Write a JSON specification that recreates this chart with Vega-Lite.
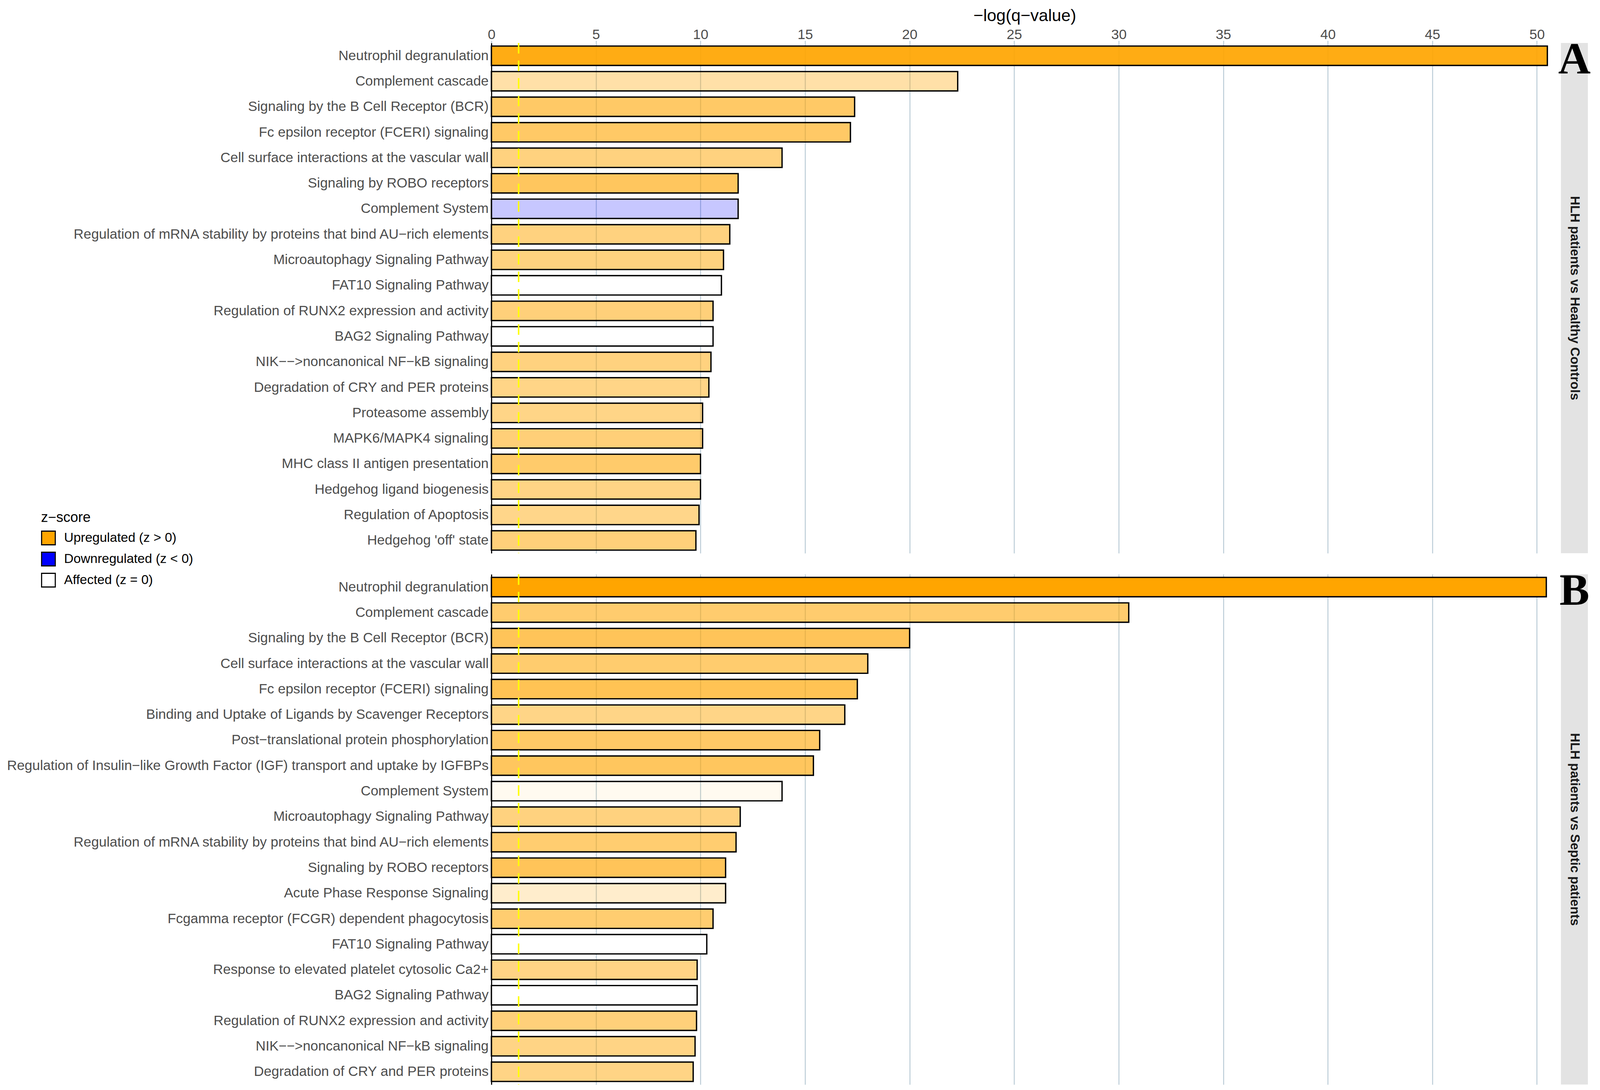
{
  "$schema": "https://vega.github.io/schema/vega-lite/v6.json",
  "background": "white",
  "padding": {"left": 17, "top": 19, "right": 9, "bottom": 8},
  "config": {
    "font": "Liberation Sans",
    "view": {"stroke": null},
    "axis": {"labelFont": "Liberation Sans", "titleFont": "Liberation Sans"},
    "legend": {"labelFont": "Liberation Sans", "titleFont": "Liberation Sans"},
    "text": {"font": "Liberation Sans"}
  },
  "datasets": {
    "A": [
      {"pathway": "Neutrophil degranulation", "neg_log_q": 50.5, "regulation": "Upregulated (z > 0)", "intensity": 0.92},
      {"pathway": "Complement cascade", "neg_log_q": 22.3, "regulation": "Upregulated (z > 0)", "intensity": 0.34},
      {"pathway": "Signaling by the B Cell Receptor (BCR)", "neg_log_q": 17.37, "regulation": "Upregulated (z > 0)", "intensity": 0.6},
      {"pathway": "Fc epsilon receptor (FCERI) signaling", "neg_log_q": 17.17, "regulation": "Upregulated (z > 0)", "intensity": 0.6},
      {"pathway": "Cell surface interactions at the vascular wall", "neg_log_q": 13.9, "regulation": "Upregulated (z > 0)", "intensity": 0.5},
      {"pathway": "Signaling by ROBO receptors", "neg_log_q": 11.8, "regulation": "Upregulated (z > 0)", "intensity": 0.63},
      {"pathway": "Complement System", "neg_log_q": 11.8, "regulation": "Downregulated (z < 0)", "intensity": 0.22},
      {"pathway": "Regulation of mRNA stability by proteins that bind AU−rich elements", "neg_log_q": 11.4, "regulation": "Upregulated (z > 0)", "intensity": 0.5},
      {"pathway": "Microautophagy Signaling Pathway", "neg_log_q": 11.1, "regulation": "Upregulated (z > 0)", "intensity": 0.5},
      {"pathway": "FAT10 Signaling Pathway", "neg_log_q": 11.0, "regulation": "Affected (z = 0)", "intensity": 1},
      {"pathway": "Regulation of RUNX2 expression and activity", "neg_log_q": 10.6, "regulation": "Upregulated (z > 0)", "intensity": 0.52},
      {"pathway": "BAG2 Signaling Pathway", "neg_log_q": 10.6, "regulation": "Affected (z = 0)", "intensity": 1},
      {"pathway": "NIK−−>noncanonical NF−kB signaling", "neg_log_q": 10.5, "regulation": "Upregulated (z > 0)", "intensity": 0.5},
      {"pathway": "Degradation of CRY and PER proteins", "neg_log_q": 10.4, "regulation": "Upregulated (z > 0)", "intensity": 0.47},
      {"pathway": "Proteasome assembly", "neg_log_q": 10.1, "regulation": "Upregulated (z > 0)", "intensity": 0.47},
      {"pathway": "MAPK6/MAPK4 signaling", "neg_log_q": 10.1, "regulation": "Upregulated (z > 0)", "intensity": 0.53},
      {"pathway": "MHC class II antigen presentation", "neg_log_q": 10.0, "regulation": "Upregulated (z > 0)", "intensity": 0.58},
      {"pathway": "Hedgehog ligand biogenesis", "neg_log_q": 10.0, "regulation": "Upregulated (z > 0)", "intensity": 0.48},
      {"pathway": "Regulation of Apoptosis", "neg_log_q": 9.93, "regulation": "Upregulated (z > 0)", "intensity": 0.46},
      {"pathway": "Hedgehog 'off' state", "neg_log_q": 9.78, "regulation": "Upregulated (z > 0)", "intensity": 0.52}
    ],
    "B": [
      {"pathway": "Neutrophil degranulation", "neg_log_q": 50.45, "regulation": "Upregulated (z > 0)", "intensity": 1.0},
      {"pathway": "Complement cascade", "neg_log_q": 30.48, "regulation": "Upregulated (z > 0)", "intensity": 0.57},
      {"pathway": "Signaling by the B Cell Receptor (BCR)", "neg_log_q": 20.0, "regulation": "Upregulated (z > 0)", "intensity": 0.65},
      {"pathway": "Cell surface interactions at the vascular wall", "neg_log_q": 18.0, "regulation": "Upregulated (z > 0)", "intensity": 0.57},
      {"pathway": "Fc epsilon receptor (FCERI) signaling", "neg_log_q": 17.5, "regulation": "Upregulated (z > 0)", "intensity": 0.67},
      {"pathway": "Binding and Uptake of Ligands by Scavenger Receptors", "neg_log_q": 16.9, "regulation": "Upregulated (z > 0)", "intensity": 0.47},
      {"pathway": "Post−translational protein phosphorylation", "neg_log_q": 15.7, "regulation": "Upregulated (z > 0)", "intensity": 0.6},
      {"pathway": "Regulation of Insulin−like Growth Factor (IGF) transport and uptake by IGFBPs", "neg_log_q": 15.4, "regulation": "Upregulated (z > 0)", "intensity": 0.63},
      {"pathway": "Complement System", "neg_log_q": 13.9, "regulation": "Upregulated (z > 0)", "intensity": 0.06},
      {"pathway": "Microautophagy Signaling Pathway", "neg_log_q": 11.9, "regulation": "Upregulated (z > 0)", "intensity": 0.5},
      {"pathway": "Regulation of mRNA stability by proteins that bind AU−rich elements", "neg_log_q": 11.7, "regulation": "Upregulated (z > 0)", "intensity": 0.56},
      {"pathway": "Signaling by ROBO receptors", "neg_log_q": 11.2, "regulation": "Upregulated (z > 0)", "intensity": 0.65},
      {"pathway": "Acute Phase Response Signaling", "neg_log_q": 11.2, "regulation": "Upregulated (z > 0)", "intensity": 0.2},
      {"pathway": "Fcgamma receptor (FCGR) dependent phagocytosis", "neg_log_q": 10.6, "regulation": "Upregulated (z > 0)", "intensity": 0.56},
      {"pathway": "FAT10 Signaling Pathway", "neg_log_q": 10.3, "regulation": "Affected (z = 0)", "intensity": 1},
      {"pathway": "Response to elevated platelet cytosolic Ca2+", "neg_log_q": 9.84, "regulation": "Upregulated (z > 0)", "intensity": 0.48},
      {"pathway": "BAG2 Signaling Pathway", "neg_log_q": 9.84, "regulation": "Affected (z = 0)", "intensity": 1},
      {"pathway": "Regulation of RUNX2 expression and activity", "neg_log_q": 9.81, "regulation": "Upregulated (z > 0)", "intensity": 0.52},
      {"pathway": "NIK−−>noncanonical NF−kB signaling", "neg_log_q": 9.74, "regulation": "Upregulated (z > 0)", "intensity": 0.48},
      {"pathway": "Degradation of CRY and PER proteins", "neg_log_q": 9.65, "regulation": "Upregulated (z > 0)", "intensity": 0.48}
    ],
    "threshold": [{"neg_log_q": 1.30103}]
  },
  "columns": 2,
  "spacing": {"row": 38, "column": 0},
  "resolve": {"scale": {"color": "shared"}, "legend": {"color": "shared"}},
  "concat": [
    {
      "width": 2730,
      "height": 1306,
      "encoding": {
        "x": {
          "field": "neg_log_q", "type": "quantitative",
          "scale": {"domain": [0, 51], "nice": false, "zero": true},
          "axis": {
            "orient": "top", "title": "−log(q−value)",
            "values": [0, 5, 10, 15, 20, 25, 30, 35, 40, 45, 50],
            "grid": true, "gridColor": "#B9CBD6", "gridWidth": 2.4,
            "domain": false, "ticks": true, "tickColor": "#B9CBD6", "tickWidth": 2.4, "tickSize": 6,
            "labelFontSize": 35.5, "labelColor": "#4D4D4D", "labelPadding": -2,
            "labelFlush": false, "labelOverlap": false,
            "titleFontSize": 43, "titleFontWeight": "normal", "titleColor": "black", "titlePadding": 9
          }
        }
      },
      "layer": [
        {
          "data": {"name": "A"},
          "mark": {"type": "bar", "stroke": "black", "strokeWidth": 3.4},
          "encoding": {
            "y": {
              "field": "pathway", "type": "nominal", "sort": null,
              "scale": {"paddingInner": 0.24, "paddingOuter": 0.12},
              "axis": {"title": null, "ticks": false, "domain": true, "domainColor": "black", "domainWidth": 2.8,
                       "labelFontSize": 35.3, "labelColor": "#4D4D4D", "labelPadding": 7.5, "labelLimit": 3000}
            },
            "color": {
              "field": "regulation", "type": "nominal",
              "scale": {"domain": ["Upregulated (z > 0)", "Downregulated (z < 0)", "Affected (z = 0)"],
                        "range": ["#FFA500", "#0000FF", "#FFFFFF"]},
              "legend": {
                "title": "z−score", "orient": "none", "legendX": -1153, "legendY": 1198,
                "titleFontSize": 36, "titleFontWeight": "normal", "titleColor": "black", "titlePadding": 14,
                "labelFontSize": 33.5, "labelColor": "black", "labelOffset": 21, "labelLimit": 2000,
                "symbolType": "square", "symbolSize": 1225, "symbolStrokeColor": "black",
                "symbolStrokeWidth": 2.8, "symbolOpacity": 1, "rowPadding": 6
              }
            },
            "fillOpacity": {"field": "intensity", "type": "quantitative", "scale": null}
          }
        },
        {
          "data": {"name": "threshold"},
          "mark": {"type": "rule", "color": "#FFFF00", "strokeWidth": 3.8, "strokeDash": [27, 18]},
          "encoding": {}
        }
      ]
    },
    {
      "width": 69,
      "height": 1306,
      "view": {"fill": "#E3E3E3", "stroke": null},
      "data": {"values": [{"comparison": "HLH patients vs Healthy Controls", "panel": "A"}]},
      "layer": [
        {
          "mark": {"type": "text", "angle": 90, "fontSize": 33, "fontWeight": "bold", "color": "#1A1A1A", "align": "center", "baseline": "middle"},
          "encoding": {"text": {"field": "comparison", "type": "nominal"}}
        },
        {
          "mark": {"type": "text", "font": "Liberation Serif", "fontSize": 115, "fontWeight": "bold", "color": "black", "align": "center", "baseline": "top", "dy": -13},
          "encoding": {"text": {"field": "panel", "type": "nominal"}, "y": {"value": 0}}
        }
      ]
    },
    {
      "width": 2730,
      "height": 1306,
      "encoding": {
        "x": {
          "field": "neg_log_q", "type": "quantitative",
          "scale": {"domain": [0, 51], "nice": false, "zero": true},
          "axis": {
            "orient": "top", "title": null,
            "values": [0, 5, 10, 15, 20, 25, 30, 35, 40, 45, 50],
            "grid": true, "gridColor": "#B9CBD6", "gridWidth": 2.4,
            "domain": false, "ticks": false, "labels": false
          }
        }
      },
      "layer": [
        {
          "data": {"name": "B"},
          "mark": {"type": "bar", "stroke": "black", "strokeWidth": 3.4},
          "encoding": {
            "y": {
              "field": "pathway", "type": "nominal", "sort": null,
              "scale": {"paddingInner": 0.24, "paddingOuter": 0.12},
              "axis": {"title": null, "ticks": false, "domain": true, "domainColor": "black", "domainWidth": 2.8,
                       "labelFontSize": 35.3, "labelColor": "#4D4D4D", "labelPadding": 7.5, "labelLimit": 3000}
            },
            "color": {"field": "regulation", "type": "nominal"},
            "fillOpacity": {"field": "intensity", "type": "quantitative", "scale": null}
          }
        },
        {
          "data": {"name": "threshold"},
          "mark": {"type": "rule", "color": "#FFFF00", "strokeWidth": 3.8, "strokeDash": [27, 18]},
          "encoding": {}
        }
      ]
    },
    {
      "width": 69,
      "height": 1306,
      "view": {"fill": "#E3E3E3", "stroke": null},
      "data": {"values": [{"comparison": "HLH patients vs Septic patients", "panel": "B"}]},
      "layer": [
        {
          "mark": {"type": "text", "angle": 90, "fontSize": 33, "fontWeight": "bold", "color": "#1A1A1A", "align": "center", "baseline": "middle"},
          "encoding": {"text": {"field": "comparison", "type": "nominal"}}
        },
        {
          "mark": {"type": "text", "font": "Liberation Serif", "fontSize": 115, "fontWeight": "bold", "color": "black", "align": "center", "baseline": "top", "dy": -13},
          "encoding": {"text": {"field": "panel", "type": "nominal"}, "y": {"value": 0}}
        }
      ]
    }
  ]
}
